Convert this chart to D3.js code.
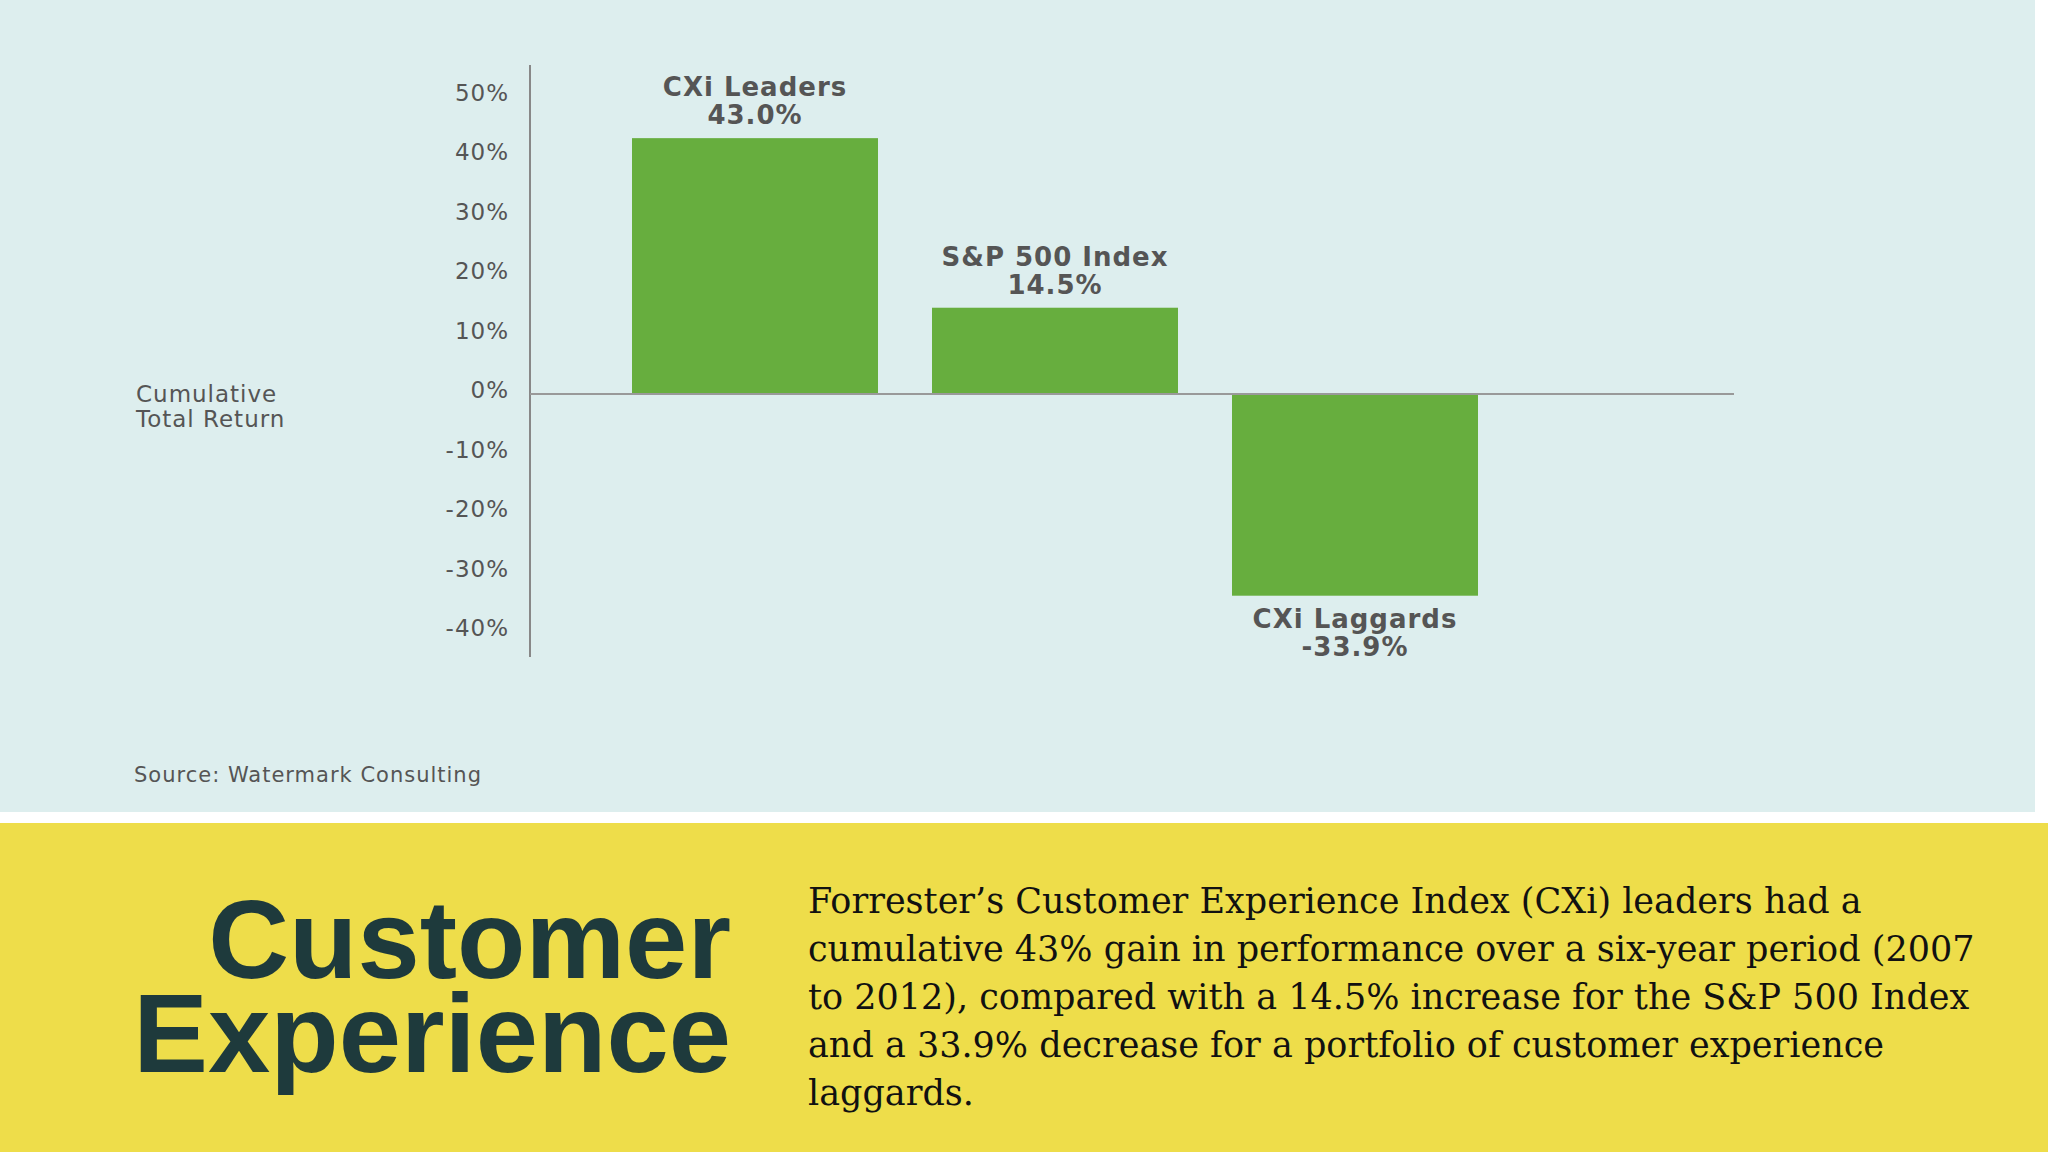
<!DOCTYPE html>
<html><head><meta charset="utf-8">
<script src="https://cdn.jsdelivr.net/npm/d3@7"></script>
<style>body{margin:0;background:#fff}svg{display:block}</style></head>
<body><script>
const categories=["CXi Leaders","S&P 500 Index","CXi Laggards"];
const values=[43.0,14.5,-33.9];
const valueLabels=["43.0%","14.5%","-33.9%"];
const ticks=[50,40,30,20,10,0,-10,-20,-30,-40];
const paragraph=["Forrester’s Customer Experience Index (CXi) leaders had a","cumulative 43% gain in performance over a six-year period (2007","to 2012), compared with a 14.5% increase for the S&P 500 Index","and a 33.9% decrease for a portfolio of customer experience","laggards."];

const W=2048,H=1152;
const svg=d3.select("body").append("svg").attr("width",W).attr("height",H);
svg.append("rect").attr("width",2035).attr("height",812).attr("fill","#ddeeee");
svg.append("rect").attr("y",823).attr("width",W).attr("height",H-823).attr("fill","#eedd4a");

const y=d3.scaleLinear().domain([0,50]).range([394,96.5]);
const x=d3.scaleBand().domain(categories).range([632,1478]).paddingInner(0.18).paddingOuter(0);
const font="'DejaVu Sans',Verdana,sans-serif";
const bfont="'Liberation Sans',Arial,sans-serif";
const gray="#555";

svg.append("line").attr("x1",530).attr("x2",530).attr("y1",65).attr("y2",657).attr("stroke","#888").attr("stroke-width",2);
svg.selectAll(".tk").data(ticks).join("text").attr("x",509).attr("y",d=>y(d)-4).attr("dy","0.35em")
  .attr("text-anchor","end").attr("font-family",font).attr("font-size",23).attr("fill",gray).attr("letter-spacing",1).text(d=>d+"%");

svg.selectAll(".bar").data(values).join("rect")
  .attr("x",(d,i)=>x(categories[i])).attr("width",x.bandwidth())
  .attr("y",d=>y(Math.max(0,d))).attr("height",d=>Math.abs(y(d)-y(0))).attr("fill","#67ae3e");
svg.append("line").attr("x1",530).attr("x2",1734).attr("y1",y(0)).attr("y2",y(0)).attr("stroke","#999").attr("stroke-width",2);

values.forEach((v,i)=>{
  const cx=x(categories[i])+x.bandwidth()/2;
  const by=v>=0?y(v)-42:y(v)+32;
  const g=svg.append("g").attr("font-family",font).attr("font-weight","bold").attr("font-size",26).attr("fill","#555").attr("text-anchor","middle").attr("letter-spacing",1);
  g.append("text").attr("x",cx).attr("y",by).text(categories[i]);
  g.append("text").attr("x",cx).attr("y",by+28).text(valueLabels[i]);
});

svg.append("text").attr("x",136).attr("y",402).attr("font-family",font).attr("font-size",23).attr("fill",gray).attr("letter-spacing",1).text("Cumulative");
svg.append("text").attr("x",136).attr("y",427).attr("font-family",font).attr("font-size",23).attr("fill",gray).attr("letter-spacing",1).text("Total Return");
svg.append("text").attr("x",134).attr("y",782).attr("font-family",font).attr("font-size",21).attr("fill",gray).attr("letter-spacing",1).text("Source: Watermark Consulting");

const dark="#1e3a3c";
svg.append("text").attr("x",731).attr("y",978).attr("text-anchor","end").attr("font-family",bfont).attr("font-weight","bold").attr("font-size",112).attr("letter-spacing",0).attr("fill",dark).text("Customer");
svg.append("text").attr("x",731).attr("y",1072).attr("text-anchor","end").attr("font-family",bfont).attr("font-weight","bold").attr("font-size",112).attr("letter-spacing",0).attr("fill",dark).text("Experience");

svg.selectAll(".p").data(paragraph).join("text").attr("x",808).attr("y",(d,i)=>913+i*48)
  .attr("font-family","'DejaVu Serif',serif").attr("font-size",35).attr("fill","#111").text(d=>d);
</script></body></html>
